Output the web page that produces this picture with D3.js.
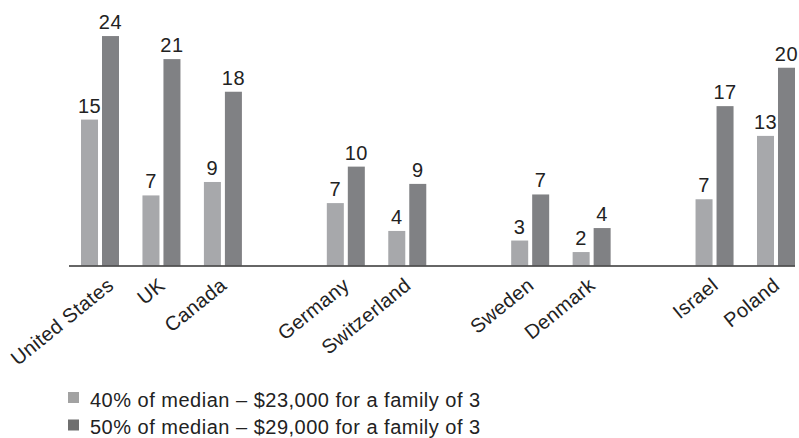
<!DOCTYPE html>
<html>
<head>
<meta charset="utf-8">
<script src="https://cdn.jsdelivr.net/npm/d3@7"></script>
<style>
  html, body { margin: 0; padding: 0; background: #fff; }
  svg { display: block; }
  text { font-family: "Liberation Sans", Arial, Helvetica, sans-serif; fill: #222; }
</style>
</head>
<body>
<svg id="chart" width="799" height="438"></svg>
<script>
// ---- data ----
const slots = ["United States", "UK", "Canada", "gap1", "Germany", "Switzerland", "gap2", "Sweden", "Denmark", "gap3", "Israel", "Poland"];
const countries = ["United States", "UK", "Canada", "Germany", "Switzerland", "Sweden", "Denmark", "Israel", "Poland"];
const seriesNames = ["40% of median – $23,000 for a family of 3", "50% of median – $29,000 for a family of 3"];
const values40 = [15.2, 7.3, 8.7, 6.5, 3.6, 2.6, 1.4, 6.9, 13.5];
const values50 = [23.9, 21.5, 18.1, 10.3, 8.5, 7.4, 3.9, 16.6, 20.6];
const labels40 = [15, 7, 9, 7, 4, 3, 2, 7, 13];
const labels50 = [24, 21, 18, 10, 9, 7, 4, 17, 20];

// ---- layout ----
const baseline = 265.5;
const barColors = ["#a7a8ab", "#808184"];
const legendColors = ["#a2a2a2", "#6f6f6f"];
const svg = d3.select("#chart");

const x0 = d3.scaleBand().domain(slots).range([81, 795]).paddingInner(0.3816).paddingOuter(0);
const x1 = d3.scaleBand().domain([0, 1]).range([0, x0.bandwidth()]).paddingInner(0.19);
const y = d3.scaleLinear().domain([0, 25]).range([baseline, baseline - 240]);

const rows = countries.map((c, i) => ({
  country: c,
  vals: [values40[i], values50[i]],
  labs: [labels40[i], labels50[i]]
}));

const g = svg.append("g");
const groups = g.selectAll("g.grp").data(rows).join("g")
  .attr("class", "grp")
  .attr("transform", d => `translate(${x0(d.country)},0)`);

groups.selectAll("rect").data(d => d.vals.map((v, k) => ({ v, k })))
  .join("rect")
  .attr("x", d => x1(d.k))
  .attr("width", x1.bandwidth())
  .attr("y", d => y(d.v))
  .attr("height", d => y(0) - y(d.v))
  .attr("fill", d => barColors[d.k]);

groups.selectAll("text.val").data(d => d.vals.map((v, k) => ({ v, k, lab: d.labs[k] })))
  .join("text")
  .attr("class", "val")
  .attr("x", d => x1(d.k) + x1.bandwidth() / 2)
  .attr("y", d => y(d.v) - 7)
  .attr("text-anchor", "middle")
  .style("font-size", "20px")
  .style("letter-spacing", "0.5px")
  .text(d => d.lab);

// axis baseline
svg.append("line")
  .attr("x1", 69).attr("x2", 795)
  .attr("y1", baseline + 0.5).attr("y2", baseline + 0.5)
  .attr("stroke", "#333").attr("stroke-width", 1.3);

// category labels via axis
const labelNudge = { "United States": 10 };
const axis = d3.axisBottom(x0).tickSize(0).tickFormat(d => d.startsWith("gap") ? "" : d);
const ax = svg.append("g").attr("transform", `translate(0,${baseline})`).call(axis);
ax.select(".domain").remove();
ax.selectAll(".tick text")
  .attr("text-anchor", "end")
  .attr("y", 0).attr("dy", 0)
  .style("font-size", "20px")
  .style("letter-spacing", "0.4px")
  .style("fill", "#222")
  .attr("transform", d => `translate(${5 + (labelNudge[d] || 0)},22) rotate(-39)`);

// legend
const leg = svg.append("g");
seriesNames.forEach((name, i) => {
  const yy = 392 + i * 27.5;
  leg.append("rect").attr("x", 68).attr("y", yy).attr("width", 11).attr("height", 11)
    .attr("fill", legendColors[i]);
  leg.append("text").attr("x", 90).attr("y", yy + 14.5)
    .style("font-size", "20px")
    .style("letter-spacing", "0.5px")
    .text(name);
});
</script>
</body>
</html>
